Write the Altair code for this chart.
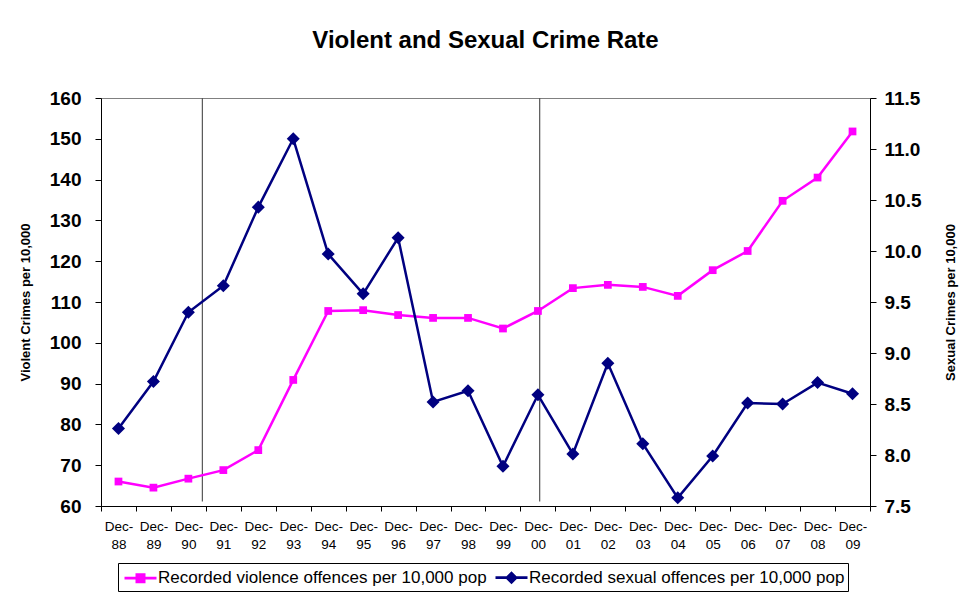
import altair as alt
import pandas as pd

# ---------------- data ----------------
categories = ["Dec-88", "Dec-89", "Dec-90", "Dec-91", "Dec-92", "Dec-93", "Dec-94",
              "Dec-95", "Dec-96", "Dec-97", "Dec-98", "Dec-99", "Dec-00", "Dec-01",
              "Dec-02", "Dec-03", "Dec-04", "Dec-05", "Dec-06", "Dec-07", "Dec-08", "Dec-09"]
violence = [66.0, 64.5, 66.7, 68.8, 73.7, 90.9, 107.8, 108.0, 106.8, 106.1, 106.1,
            103.5, 107.8, 113.4, 114.2, 113.7, 111.5, 117.8, 122.5, 134.8, 140.5, 151.8]
sexual = [8.26, 8.72, 9.40, 9.66, 10.43, 11.10, 9.97, 9.58, 10.13, 8.52, 8.63,
          7.89, 8.59, 8.01, 8.90, 8.11, 7.58, 7.99, 8.51, 8.50, 8.71, 8.60]
series_names = ["Recorded violence offences per 10,000 pop",
                "Recorded sexual offences per 10,000 pop"]
series_colors = ["#FF00FF", "#000080"]
marker_rules = ["Dec-90", "Dec-00"]

df = pd.DataFrame({"cat": categories, "violence": violence, "sexual": sexual})
legend_df = pd.DataFrame({"series": series_names})

FONT = "Liberation Sans"

# ---------------- shared encodings ----------------
x_scale = alt.Scale(type="band", domain=categories, paddingInner=0, paddingOuter=0)
x_axis = alt.Axis(title=None, labelAngle=0, labelOverlap=False, tickBand="extent",
                  labelExpr="datum.label ? ['Dec-', slice(datum.label, 4)] : ''",
                  labelFontSize=13.5, labelFont=FONT, labelColor="black",
                  labelLineHeight=18, labelPadding=8, tickSize=5, tickColor="black",
                  domainColor="black", grid=False)

left_axis = alt.Axis(title="Violent Crimes per 10,000", values=list(range(60, 161, 10)),
                     labelFontSize=19, labelFontWeight="bold", labelFont=FONT,
                     labelColor="black", labelPadding=14, tickSize=6, tickColor="black",
                     domainColor="black", grid=False, titleFontSize=13,
                     titleFont=FONT, titleFontWeight="bold", titleColor="black",
                     titlePadding=17)
right_axis = alt.Axis(title="Sexual Crimes per 10,000", orient="right",
                      values=[7.5, 8.0, 8.5, 9.0, 9.5, 10.0, 10.5, 11.0, 11.5],
                      format=".1f", labelFontSize=19, labelFontWeight="bold",
                      labelFont=FONT, labelColor="black", labelPadding=8, tickSize=6,
                      tickColor="black", domainColor="black", grid=False,
                      titleFontSize=13, titleFont=FONT, titleFontWeight="bold",
                      titleColor="black", titlePadding=37, titleAngle=270)

left_scale = alt.Scale(domain=[60, 160], nice=False, zero=False)
right_scale = alt.Scale(domain=[7.5, 11.5], nice=False, zero=False)


def xenc(pos=0.5):
    return alt.X("cat:N", scale=x_scale, axis=x_axis, sort=categories, bandPosition=pos)


# vertical marker lines
rule1 = alt.Chart(pd.DataFrame({"cat": [marker_rules[0]]})).mark_rule(
    color="#555555", strokeWidth=1.2).encode(
    x=xenc(0.9),
    y=alt.Y(datum=160, scale=left_scale, axis=left_axis),
    y2=alt.Y2(datum=61.1))
rule2 = alt.Chart(pd.DataFrame({"cat": [marker_rules[1]]})).mark_rule(
    color="#555555", strokeWidth=1.2).encode(
    x=xenc(0.55),
    y=alt.Y(datum=160, scale=left_scale, axis=left_axis),
    y2=alt.Y2(datum=61.1))

base = alt.Chart(df)
line_v = base.mark_line(color=series_colors[0], strokeWidth=2.5).encode(
    x=xenc(), y=alt.Y("violence:Q", scale=left_scale, axis=left_axis))
pts_v = base.mark_point(shape="square", filled=True, size=60, opacity=1,
                        color=series_colors[0]).encode(
    x=xenc(), y=alt.Y("violence:Q", scale=left_scale, axis=left_axis))

line_s = base.mark_line(color=series_colors[1], strokeWidth=2.5).encode(
    x=xenc(), y=alt.Y("sexual:Q", scale=right_scale, axis=right_axis))
pts_s = base.mark_point(shape="diamond", filled=True, size=170, opacity=1,
                        color=series_colors[1]).encode(
    x=xenc(), y=alt.Y("sexual:Q", scale=right_scale, axis=right_axis))

# legend-only layer (draws nothing, explicit scale domains keep both entries)
sq_path = ("M-1.6,0L1.6,0"
           "M-0.36,-0.36L0.36,-0.36L0.36,0.36L-0.36,0.36Z"
           "M-0.18,-0.18L0.18,-0.18L0.18,0.18L-0.18,0.18Z")
di_path = ("M-1.6,0L1.6,0"
           "M0,-0.45L0.45,0L0,0.45L-0.45,0Z"
           "M0,-0.25L0.25,0L0,0.25L-0.25,0Z"
           "M0,-0.08L0.08,0L0,0.08L-0.08,0Z")
legend_cfg = alt.Legend(orient="none", legendX=17, legendY=465, direction="horizontal",
                        columns=2, title=None, strokeColor="black", fillColor="white",
                        padding=3, symbolSize=400, symbolStrokeWidth=2.8,
                        symbolOpacity=1, labelFontSize=17, labelFont=FONT,
                        labelColor="black", labelLimit=0, symbolOffset=8,
                        labelOffset=6, columnPadding=2, cornerRadius=0)
legend_layer = alt.Chart(legend_df).transform_filter("false").mark_point(
    filled=False, opacity=1, strokeWidth=2.8).encode(
    color=alt.Color("series:N", scale=alt.Scale(domain=series_names, range=series_colors),
                    legend=legend_cfg),
    shape=alt.Shape("series:N", scale=alt.Scale(domain=series_names,
                                                range=[sq_path, di_path]),
                    legend=legend_cfg))

left_group = alt.layer(rule1, rule2, line_v, pts_v, legend_layer)
right_group = alt.layer(line_s, pts_s)

chart = alt.layer(left_group, right_group).resolve_scale(y="independent").properties(
    width=769, height=408,
    padding={"left": 101, "top": 98, "right": 107, "bottom": 94},
    autosize=alt.AutoSizeParams(type="none"),
    title=alt.TitleParams("Violent and Sexual Crime Rate", fontSize=24, fontWeight="bold",
                          font=FONT, color="black", anchor="middle", offset=17,
                          baseline="alphabetic"),
    background="white",
).configure_view(stroke="#808080", strokeWidth=1)

chart.save("out.html", embed_options={"renderer": "svg", "actions": False})
